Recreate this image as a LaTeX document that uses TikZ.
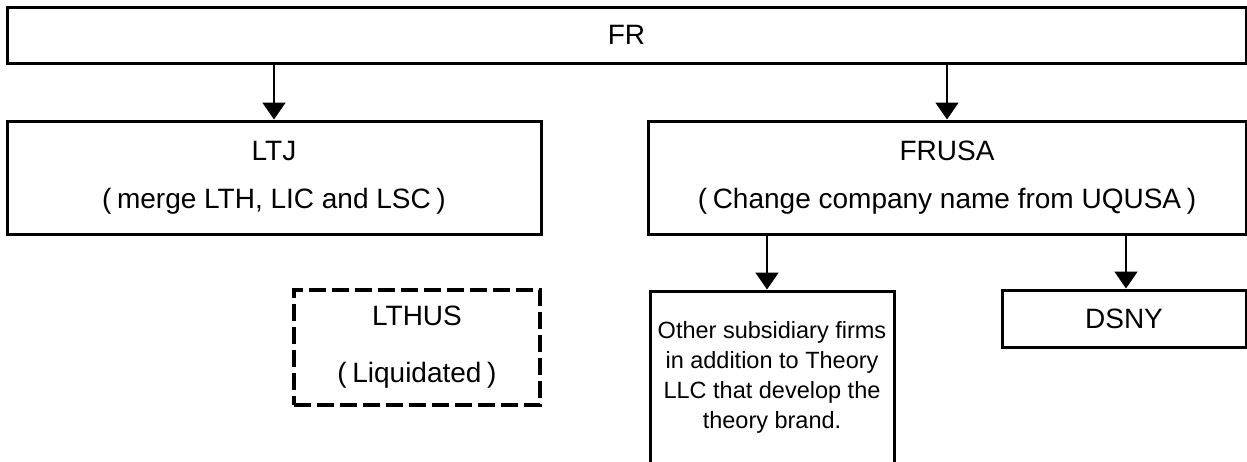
\documentclass[tikz,border=0pt]{standalone}
\usepackage{fontspec}
\setmainfont{Liberation Sans}
\usetikzlibrary{arrows.meta}
\newcommand{\lpar}{(\hspace{0.2em}}
\newcommand{\rpar}{\hspace{0.2em})}

\begin{document}
\begin{tikzpicture}[x=1pt,y=-1pt,
		firm/.style={draw, line width=3pt, inner sep=0pt, align=center,
			font=\fontsize{28}{48}\selectfont},
		gone/.style={firm, line width=4pt, dash pattern=on 17pt off 6pt},
		small/.style={firm, font=\fontsize{23.5}{30}\selectfont},
		arr/.style={line width=1.8pt, -{Triangle[length=17pt,width=23pt]}}]
			\useasboundingbox (0,0) rectangle (1247,461);
			\node[firm, minimum width=1239pt, minimum height=56pt] (fr) at (626.5,35) {FR};
			\node[firm, minimum width=534pt, minimum height=113pt] (ltj) at (274,177.5)
				{LTJ\\\lpar merge LTH, LIC and LSC\rpar};
			\node[firm, minimum width=598pt, minimum height=113pt] (frusa) at (947,177.5)
				{FRUSA\\\lpar Change company name from UQUSA\rpar};
			\node[gone, minimum width=246pt, minimum height=115pt] (lthus) at (417,347.5)
				{LTHUS\\[9pt]\lpar Liquidated\rpar};
			\node[small, minimum width=244pt, minimum height=172pt] (other) at (772,377)
				{Other subsidiary firms\\in addition to Theory\\LLC that develop the\\theory brand.};
			\node[firm, minimum width=244pt, minimum height=57pt] (dsny) at (1124,318.5) {DSNY};
			\draw[arr] (ltj.north |- fr.south) -- (ltj.north);
			\draw[arr] (frusa.north |- fr.south) -- (frusa.north);
			\draw[arr] ([xshift=-5pt]other.north |- frusa.south) -- ([xshift=-5pt]other.north);
			\draw[arr] ([xshift=2pt]dsny.north |- frusa.south) -- ([xshift=2pt]dsny.north);
		\end{tikzpicture}
\end{document}
